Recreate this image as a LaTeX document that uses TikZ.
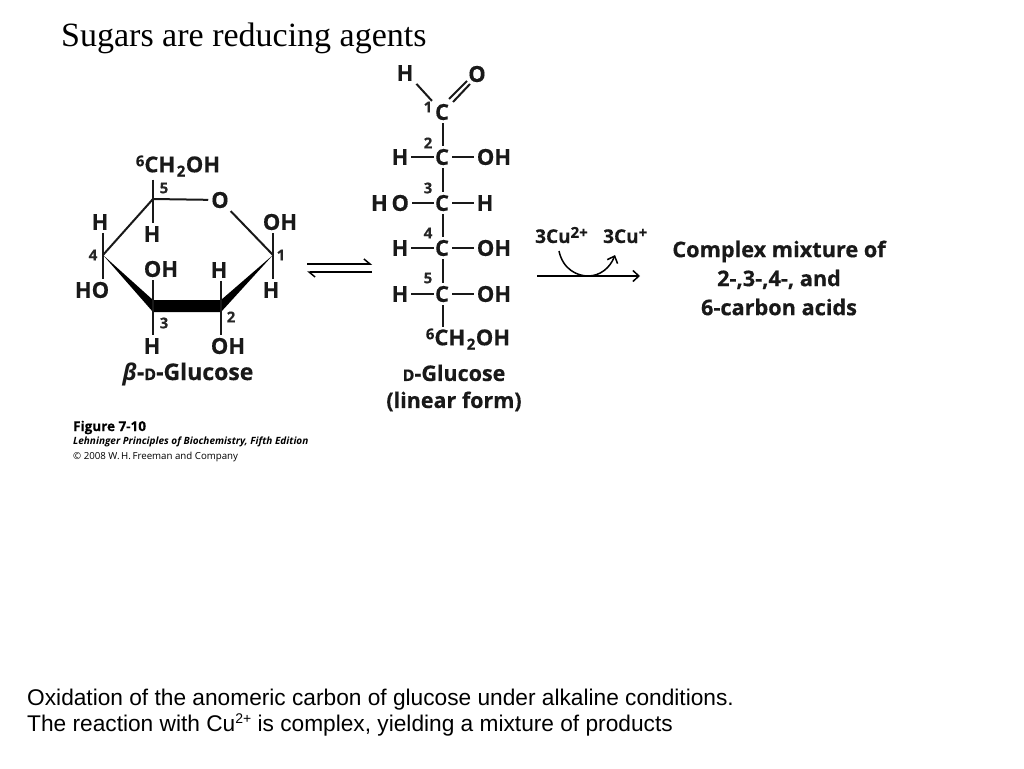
\documentclass[tikz,border=0pt]{standalone}
\usepackage{fontspec}
\setmainfont{Liberation Sans}
\newfontfamily\titlefont{Liberation Serif}
\newfontfamily\figfont[BoldFeatures={FakeBold=0.4}]{Open Sans}
\usetikzlibrary{arrows.meta}
\newcommand{\subtwo}{\kern1.5pt\raisebox{-0.35ex}{\fontsize{15}{15}\selectfont 2}\kern0.5pt}
\newcommand{\supsix}{\raisebox{0.5ex}{\fontsize{15}{15}\selectfont 6}}
\newcommand{\smalld}{{\fontsize{16}{16}\selectfont D}}
\tikzset{
  chem/.style = {font=\figfont\bfseries\fontsize{22}{22}\selectfont, inner sep=0pt, outer sep=3pt, text=black!90},
  num/.style = {font=\figfont\bfseries\fontsize{15}{15}\selectfont, inner sep=0pt, text=black!85},
  cname/.style = {font=\figfont\bfseries\fontsize{21.7}{29}\selectfont, inner sep=0pt, text=black!90},
  bond/.style = {line width=2pt, black!90},
  para/.style = {font=\fontsize{22.7}{26.5}\selectfont, inner sep=0pt, anchor=base west}
}

\begin{document}
\begin{tikzpicture}[x=1pt, y=-1pt]
  \useasboundingbox (0,0) rectangle (1024,768);

  % Title and text
  \node[font=\titlefont\fontsize{34}{34}\selectfont, inner sep=0pt, anchor=base west] (title) at (61,46) {Sugars are reducing agents};
  \node[para] (lineone) at (27,705) {Oxidation of the anomeric carbon of glucose under alkaline conditions.};
  \node[para] (linetwo) at (27,731) {The reaction with Cu\raisebox{0.6ex}{\fontsize{14}{14}\selectfont 2+} is complex, yielding a mixture of products};

  % Ring
  \coordinate (c1) at (273,255);
  \coordinate (c2) at (221,306);
  \coordinate (c3) at (153,306);
  \coordinate (c4) at (103,255);
  \coordinate (c5) at (153,199);
  \node[chem] (ringO) at (220,200) {O};
  \node[chem] (ch2oh) at (178,166) {\supsix CH\subtwo OH};
  \node[chem] (h4) at (100,222) {H};
  \node[chem] (ho4) at (92,290) {HO};
  \node[chem] (h5) at (152,234) {H};
  \node[chem] (oh3) at (161,269) {OH};
  \node[chem] (h2) at (219,270) {H};
  \node[chem] (oh1) at (280,222) {OH};
  \node[chem] (h1) at (271,290) {H};
  \node[chem] (h3) at (152,346) {H};
  \node[chem] (oh2) at (228,346) {OH};
  \node[num] (n1) at (281,255) {1};
  \node[num] (n2) at (231,317) {2};
  \node[num] (n3) at (164,323) {3};
  \node[num] (n4) at (93,255) {4};
  \node[num] (n5) at (164,188) {5};
  \node[cname, font=\figfont\bfseries\fontsize{23}{23}\selectfont] (betaname) at (188,374) {\textit{β}-\smalld-Glucose};

  \draw[bond] (c5) -- (ringO);
  \draw[bond] (ringO) -- (c1);
  \draw[bond] (c4) -- (c5);
  \fill[black] (c4) -- (153,300) -- (221,300) -- (c1) -- (221,312) -- (153,312) -- cycle;
  \draw[bond] (c5 |- ch2oh.south) -- (c5);
  \draw[bond] (c5) -- (c5 |- h5.north);
  \draw[bond] (c4 |- h4.south) -- (c4);
  \draw[bond] (c4) -- (c4 |- ho4.north);
  \draw[bond] (c1 |- oh1.south) -- (c1);
  \draw[bond] (c1) -- (c1 |- h1.north);
  \draw[bond] (c3 |- oh3.south) -- (c3);
  \draw[bond] (c3) -- (c3 |- h3.north);
  \draw[bond] (c2 |- h2.south) -- (c2);
  \draw[bond] (c2) -- (c2 |- oh2.north);

  % Caption
  \node[inner sep=0pt, anchor=base west, font=\figfont\bfseries\fontsize{13.5}{13.5}\selectfont] (figno) at (73,431) {Figure 7-10};
  \node[inner sep=0pt, anchor=base west, font=\figfont\bfseries\itshape\fontsize{10}{10}\selectfont] (book) at (73,444) {Lehninger Principles of Biochemistry, Fifth Edition};
  \node[inner sep=0pt, anchor=base west, font=\figfont\fontsize{9.7}{9.7}\selectfont] (press) at (73,459) {\textcopyright{} 2008 W.\,H.\,Freeman and Company};

  % Equilibrium
  \coordinate (eqa) at (307,264);
  \coordinate (eqb) at (372,264);
  \coordinate (eqc) at (372,272);
  \coordinate (eqd) at (307,272);
  \draw[line width=1.5pt, -{Straight Barb[left, length=6pt, width=10pt]}] (eqa) -- (eqb);
  \draw[line width=1.5pt, -{Straight Barb[left, length=6pt, width=10pt]}] (eqc) -- (eqd);

  % Linear form
  \node[chem] (l1) at (442,112) {C};
  \node[chem] (l2) at (442,157) {C};
  \node[chem] (l3) at (442,203) {C};
  \node[chem] (l4) at (442,248) {C};
  \node[chem] (l5) at (442,294) {C};
  \node[chem] (l6) at (468,339) {\supsix CH\subtwo OH};
  \coordinate (l6c) at (442,327);
  \node[chem] (lh1) at (405,73) {H};
  \node[chem] (lo1) at (477,74) {O};
  \coordinate (dba) at (449,99);
  \coordinate (dbb) at (467,81);
  \coordinate (dbc) at (453,102);
  \coordinate (dbd) at (470,84);
  \node[chem] (lh2) at (400,157) {H};
  \node[chem] (loh2) at (494,157) {OH};
  \node[chem] (lho3) at (390,203) {H\,O};
  \node[chem] (lh3) at (485,203) {H};
  \node[chem] (lh4) at (400,248) {H};
  \node[chem] (loh4) at (494,248) {OH};
  \node[chem] (lh5) at (400,294) {H};
  \node[chem] (loh5) at (494,294) {OH};
  \node[num] (m1) at (428,107) {1};
  \node[num] (m2) at (428,143) {2};
  \node[num] (m3) at (428,188) {3};
  \node[num] (m4) at (428,233) {4};
  \node[num] (m5) at (428,278) {5};
  \node[cname, align=center, font=\figfont\bfseries\fontsize{21.5}{27}\selectfont] (linname) at (454,388) {\smalld-Glucose\\(linear form)};

  \draw[bond] (lh1.south east) -- (l1.north west);
  \draw[bond] (dba) -- (dbb);
  \draw[bond] (dbc) -- (dbd);
  \foreach \a/\b in {l1/l2, l2/l3, l3/l4, l4/l5, l5/l6c} {
    \draw[bond] ([xshift=1pt]\a.south) -- ([xshift=1pt]\b.north);
  }
  \foreach \l/\c/\r in {lh2/l2/loh2, lho3/l3/lh3, lh4/l4/loh4, lh5/l5/loh5} {
    \draw[bond] (\l.east) -- ([xshift=2pt]\c.west);
    \draw[bond] (\c.east) -- (\r.west);
  }

  % Oxidation
  \coordinate (rxa) at (537,276);
  \coordinate (rxb) at (640,276);
  \coordinate (cua) at (559,251);
  \coordinate (cub) at (615,255);
  \draw[line width=1.5pt, -{Straight Barb[length=6pt, width=11pt]}] (rxa) -- (rxb);
  \draw[line width=1.5pt, -{Straight Barb[length=6pt, width=11pt]}] (cua) .. controls (563,270) and (578,276) .. (588,276) .. controls (600,276) and (610,268) .. (cub);
  \node[inner sep=0pt, anchor=base west, font=\figfont\bfseries\fontsize{19}{19}\selectfont, text=black!90] (cutwo) at (535,243) {3Cu\raisebox{0.5ex}{\fontsize{15}{15}\selectfont 2+}};
  \node[inner sep=0pt, anchor=base west, font=\figfont\bfseries\fontsize{19}{19}\selectfont, text=black!90] (cuone) at (603,243) {3Cu\raisebox{0.5ex}{\fontsize{15}{15}\selectfont +}};
  \node[cname, align=center] (mix) at (779,278) {Complex mixture of\\2-,3-,4-, and\\6-carbon acids};

\end{tikzpicture}
\end{document}
